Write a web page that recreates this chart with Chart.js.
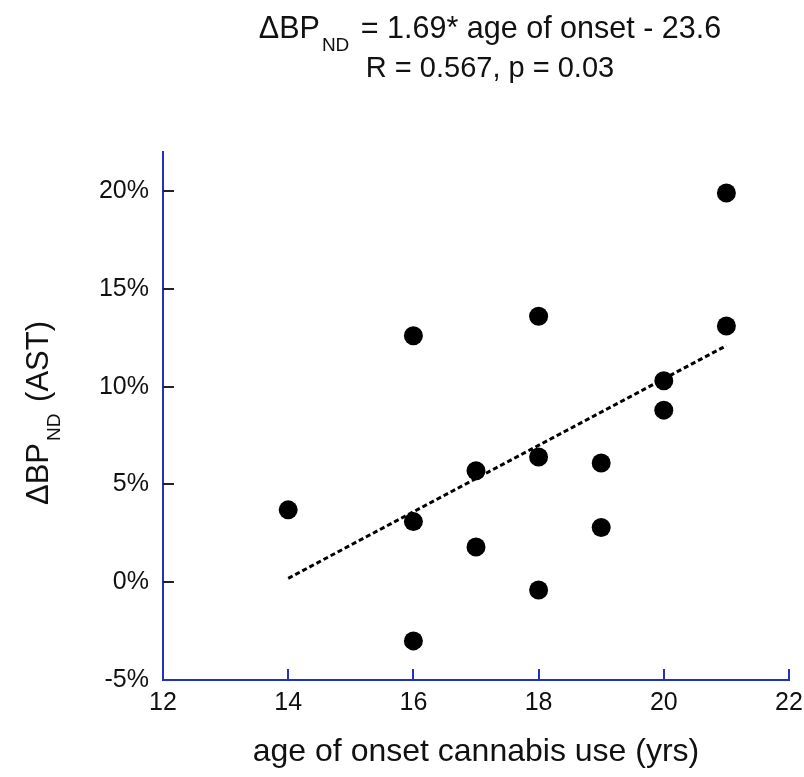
<!DOCTYPE html>
<html>
<head>
<meta charset="utf-8">
<script src="https://cdn.jsdelivr.net/npm/chart.js@4.4.1/dist/chart.umd.min.js"></script>
<style>
  html, body { margin: 0; padding: 0; background: #fff; }
  #wrap { position: relative; width: 804px; height: 777px; font-family: "Liberation Sans", Arial, Helvetica, sans-serif; color: #111; }
  #chart { position: absolute; left: 0; top: 0; }
  .title { position: absolute; left: 190px; width: 600px; text-align: center; line-height: 1; white-space: nowrap; }
  .title sub { font-size: 19px; vertical-align: -13px; line-height: 0; margin-left: 2px; margin-right: 3px; }
  .ylab { position: absolute; left: 38px; top: 413px; width: 300px; margin-left: -150px; margin-top: -17px;
          text-align: center; font-size: 31px; line-height: 34px; white-space: nowrap; transform: rotate(-90deg); }
  .ylab sub { font-size: 19px; vertical-align: -12px; line-height: 0; margin-left: 2px; margin-right: 3px; }
</style>
</head>
<body>
<div id="wrap">
  <canvas id="chart" width="804" height="777"></canvas>
  <div class="title" style="top: 12px; font-size: 30.5px;">&Delta;BP<sub>ND</sub> = 1.69* age of onset - 23.6</div>
  <div class="title" style="top: 53px; font-size: 29px;">R = 0.567, p = 0.03</div>
  <div class="ylab">&Delta;BP<sub>ND</sub> (AST)</div>
</div>
<script>
// measured points: age of onset (yrs) vs change in BPnd (%)
const ages = [14, 16, 16, 16, 17, 17, 18, 18, 18, 19, 19, 20, 20, 21, 21];
const deltaBP = [3.7, 3.1, 12.6, -3.0, 5.7, 1.8, 13.6, 6.4, -0.4, 6.1, 2.8, 10.3, 8.8, 19.9, 13.1];

// regression line end points
const trendX = [14, 21];
const trendY = [0.2, 12.1];

const yTicks = [-5, 0, 5, 10, 15, 20];
const axisBlue = '#2233bb';
const fontFamily = '"Liberation Sans", Arial, sans-serif';

// inward tick marks on both axes
const innerTicks = {
  id: 'innerTicks',
  afterDraw(chart) {
    const { ctx, chartArea, scales } = chart;
    ctx.save();
    ctx.lineWidth = 2;
    ctx.strokeStyle = '#222';
    scales.y.ticks.forEach(t => {
      if (t.value === -5) return;
      const y = Math.round(scales.y.getPixelForValue(t.value));
      ctx.beginPath();
      ctx.moveTo(chartArea.left, y);
      ctx.lineTo(chartArea.left + 11, y);
      ctx.stroke();
    });
    ctx.strokeStyle = axisBlue;
    scales.x.ticks.forEach(t => {
      if (t.value === 12) return;
      const x = Math.round(scales.x.getPixelForValue(t.value));
      ctx.beginPath();
      ctx.moveTo(x, chartArea.bottom);
      ctx.lineTo(x, chartArea.bottom - 11);
      ctx.stroke();
    });
    ctx.restore();
  }
};

new Chart(document.getElementById('chart'), {
  type: 'scatter',
  data: {
    datasets: [
      {
        data: ages.map((a, i) => ({ x: a, y: deltaBP[i] })),
        backgroundColor: '#000',
        borderWidth: 0,
        pointRadius: 9.5,
        pointHoverRadius: 9.5
      },
      {
        type: 'line',
        data: trendX.map((a, i) => ({ x: a, y: trendY[i] })),
        borderColor: '#000',
        borderWidth: 3,
        borderDash: [5, 3],
        pointRadius: 0,
        fill: false
      }
    ]
  },
  options: {
    responsive: false,
    animation: false,
    layout: { padding: { left: 0, right: 15, top: 152, bottom: 0 } },
    plugins: { legend: { display: false }, tooltip: { enabled: false } },
    scales: {
      x: {
        type: 'linear',
        min: 12,
        max: 22,
        grid: { display: false, drawTicks: false },
        border: { display: true, color: axisBlue, width: 2 },
        ticks: {
          stepSize: 2,
          padding: 8,
          color: '#111',
          font: { family: fontFamily, size: 25 }
        },
        title: {
          display: true,
          text: 'age of onset cannabis use (yrs)',
          color: '#111',
          padding: { top: 0, bottom: 6 },
          font: { family: fontFamily, size: 32 }
        },
        afterFit(scale) {
          scale.height = 97;
          scale.paddingLeft = 0;
          scale.paddingRight = 0;
        }
      },
      y: {
        type: 'linear',
        min: -5,
        max: 22,
        grid: { display: false, drawTicks: false },
        border: { display: true, color: axisBlue, width: 2 },
        afterBuildTicks(scale) { scale.ticks = yTicks.map(v => ({ value: v })); },
        ticks: {
          padding: 14,
          color: '#111',
          font: { family: fontFamily, size: 25 },
          callback: v => `${v}%`
        },
        afterFit(scale) { scale.width = 163; }
      }
    }
  },
  plugins: [innerTicks]
});
</script>
</body>
</html>
